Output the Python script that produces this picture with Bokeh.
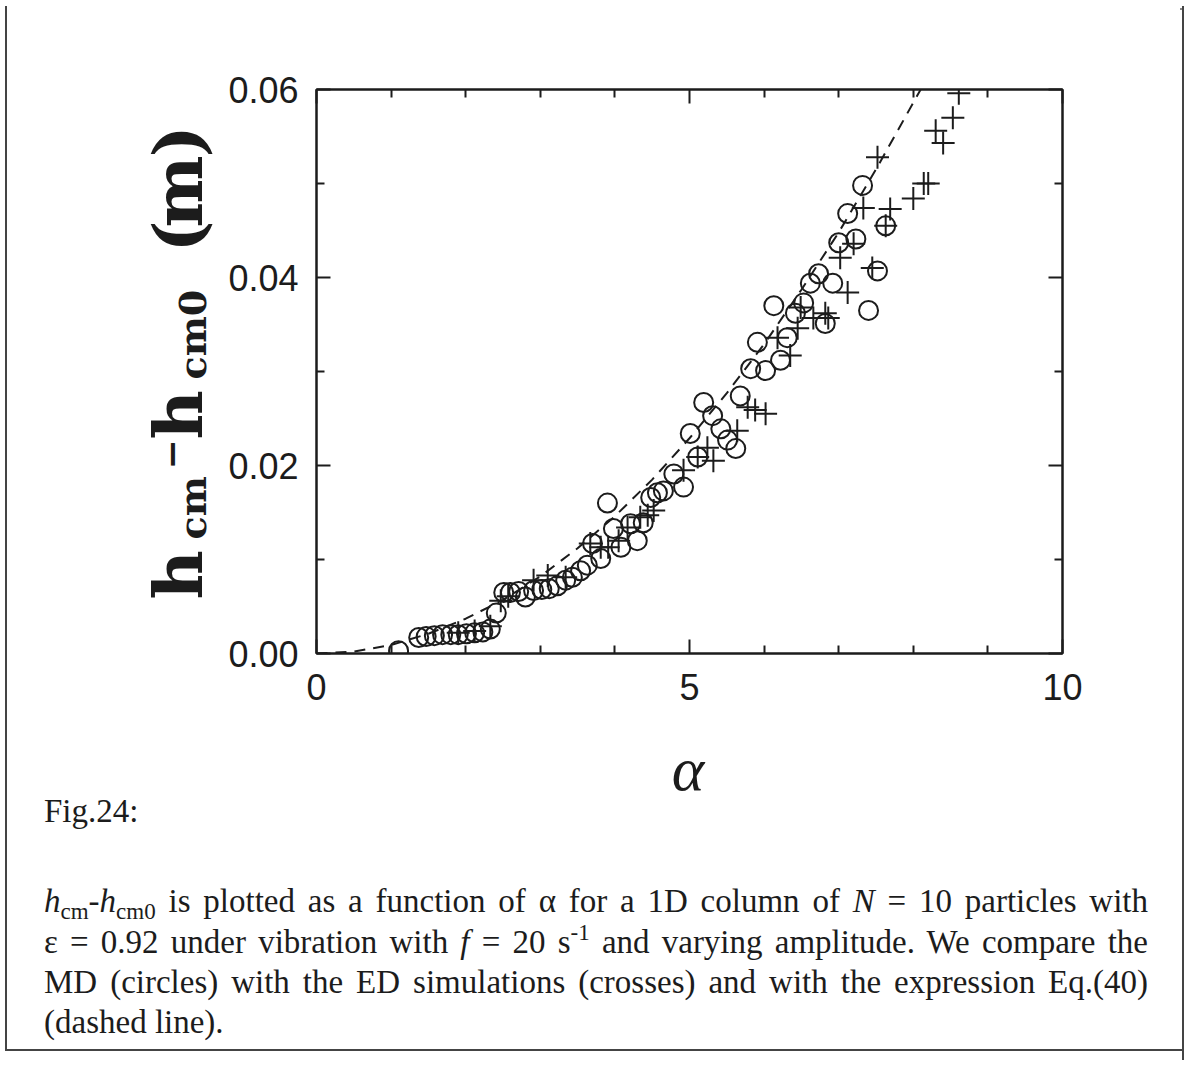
from bokeh.plotting import figure
from bokeh.models import (Range1d, FixedTicker, NumeralTickFormatter, LinearAxis,
                          CustomJSTickFormatter, Div)
from bokeh.layouts import row, column
from bokeh.embed import file_html
from bokeh.resources import INLINE

# ---------------- data ----------------
md_alpha = [1.10, 1.37, 1.47, 1.58, 1.69, 1.80, 1.90, 2.01, 2.12, 2.23, 2.33, 2.41,
            2.51, 2.60, 2.71, 2.80, 2.91, 3.02, 3.12, 3.23, 3.34, 3.43, 3.54, 3.63,
            3.70, 3.81, 3.90, 3.98, 4.08, 4.21, 4.30, 4.38, 4.48, 4.57, 4.65, 4.79, 4.92,
            5.01, 5.11, 5.19, 5.31, 5.42, 5.51, 5.62, 5.68, 5.82, 5.91, 6.02, 6.13, 6.22,
            6.31, 6.42, 6.53, 6.62, 6.73, 6.82, 6.92, 7.00, 7.12, 7.23, 7.32, 7.40, 7.52, 7.63]
md_h = [0.0003, 0.0017, 0.0018, 0.0019, 0.0020, 0.0020, 0.0020, 0.0021, 0.0022, 0.0023, 0.0026, 0.0043,
        0.0065, 0.0065, 0.0066, 0.0060, 0.0067, 0.0068, 0.0069, 0.0072, 0.0078, 0.0081, 0.0088, 0.0094,
        0.0117, 0.0101, 0.0160, 0.0133, 0.0113, 0.0138, 0.0120, 0.0139, 0.0166, 0.0171, 0.0173, 0.0191, 0.0177,
        0.0234, 0.0209, 0.0267, 0.0253, 0.0239, 0.0227, 0.0218, 0.0274, 0.0303, 0.0331, 0.0301, 0.0370, 0.0312,
        0.0336, 0.0362, 0.0373, 0.0394, 0.0404, 0.0351, 0.0394, 0.0437, 0.0468, 0.0441, 0.0498, 0.0365, 0.0407, 0.0455]

ed_alpha = [1.90, 2.12, 2.33, 2.47, 2.57, 2.91, 3.10, 3.34,
            3.67, 3.81, 3.91, 4.05, 4.17, 4.34, 4.44, 4.52,
            4.92, 5.11, 5.24, 5.32, 5.64, 5.78, 5.88, 6.02,
            6.18, 6.35, 6.45, 6.49, 6.66, 6.82, 6.86, 7.02, 7.12, 7.20, 7.33, 7.45, 7.52, 7.63,
            7.69, 8.00, 8.14, 8.20, 8.30, 8.40, 8.53, 8.61]
ed_h = [0.0022, 0.0024, 0.0029, 0.0056, 0.0061, 0.0078, 0.0083, 0.0081,
        0.0117, 0.0113, 0.0113, 0.0120, 0.0134, 0.0145, 0.0147, 0.0152,
        0.0195, 0.0209, 0.0219, 0.0205, 0.0237, 0.0262, 0.0259, 0.0255,
        0.0336, 0.0317, 0.0346, 0.0368, 0.0357, 0.0362, 0.0357, 0.0421, 0.0384, 0.0436, 0.0474, 0.0410, 0.0528, 0.0455,
        0.0473, 0.0484, 0.0500, 0.0500, 0.0556, 0.0543, 0.0570, 0.0596]

eq_alpha = [0.0, 0.5, 1.0, 1.5, 2.0, 2.5, 3.0, 3.5, 4.0, 4.5, 5.0, 5.5, 6.0, 6.5, 7.0, 7.5, 8.0, 8.12]
eq_h = [0.0, 0.0002, 0.0009, 0.0021, 0.0037, 0.0057, 0.0082, 0.0112, 0.0146, 0.0185,
        0.0229, 0.0277, 0.0329, 0.0387, 0.0448, 0.0515, 0.0586, 0.0603]

x_major = [0, 5, 10]
x_minor = [1, 2, 3, 4, 6, 7, 8, 9]
y_major = [0.00, 0.02, 0.04, 0.06]
y_minor = [0.01, 0.03, 0.05]

x_label = "α"
fig_label = "Fig.24:"

# ---------------- page geometry ----------------
W, H = 1204, 1067
TOP_H = 6            # strip above the figure
LEFT_W = 220         # y-label column
RIGHT_W = 24         # strip right of the figure
FIG_H = 724          # figure height (page y 6..730)
CAP_TOP = TOP_H + FIG_H
FIG_W = W - LEFT_W - RIGHT_W
FL, FR, FT, FB = 316, 1062, 89, 653   # plot frame in page pixels
INK = "#1c1c1c"
EDGE = "#444444"

p = figure(width=FIG_W, height=FIG_H, x_range=Range1d(0, 10), y_range=Range1d(0, 0.06),
           output_backend="svg", toolbar_location=None,
           min_border_left=FL - LEFT_W, min_border_right=W - RIGHT_W - FR,
           min_border_top=FT - TOP_H, min_border_bottom=CAP_TOP - FB)
p.grid.visible = False
p.background_fill_color = "white"
p.border_fill_color = "white"
p.outline_line_color = INK
p.outline_line_width = 2


def style_axis(ax, major, minor, show_labels, fmt=None):
    ax.ticker = FixedTicker(ticks=major, minor_ticks=minor)
    ax.axis_line_color = INK
    ax.axis_line_width = 2
    ax.major_tick_line_color = INK
    ax.major_tick_line_width = 2
    ax.minor_tick_line_color = INK
    ax.minor_tick_line_width = 2
    ax.major_tick_in = 14
    ax.major_tick_out = 0
    ax.minor_tick_in = 8
    ax.minor_tick_out = 0
    if show_labels:
        ax.major_label_text_font = "Liberation Sans"
        ax.major_label_text_font_size = "36px"
        ax.major_label_text_color = INK
        if fmt is not None:
            ax.formatter = fmt
    else:
        ax.formatter = CustomJSTickFormatter(code="return ''")
        ax.major_label_text_font_size = "1px"
        ax.major_label_standoff = 0


xa = p.xaxis[0]
style_axis(xa, x_major, x_minor, True)
xa.major_label_standoff = 20

ya = p.yaxis[0]
style_axis(ya, y_major, y_minor, True, NumeralTickFormatter(format="0.00"))
ya.major_label_standoff = 18

top_ax = LinearAxis()
style_axis(top_ax, x_major, x_minor, False)
p.add_layout(top_ax, "above")
right_ax = LinearAxis()
style_axis(right_ax, y_major, y_minor, False)
p.add_layout(right_ax, "right")

p.line(eq_alpha, eq_h, line_color=INK, line_width=2, line_dash="11 8")
p.scatter(md_alpha, md_h, marker="circle", size=19, fill_color=None,
          line_color=INK, line_width=2)
p.scatter(ed_alpha, ed_h, marker="cross", size=23, line_color=INK, line_width=2)


# ---------------- HTML helpers ----------------
def vline(x, y0, y1, color=EDGE, w=2):
    return (f'<div style="position:absolute;left:{x - 1}px;top:{y0}px;width:{w}px;'
            f'height:{y1 - y0}px;background:{color};"></div>')


def hline(y, x0, x1, color=EDGE, w=2):
    return (f'<div style="position:absolute;left:{x0}px;top:{y - 1}px;width:{x1 - x0}px;'
            f'height:{w}px;background:{color};"></div>')


def box(w, h, inner):
    return (f'<div style="position:relative;width:{w}px;height:{h}px;overflow:visible;'
            f'margin:0;padding:0;">{inner}</div>')


def make_div(w, h, inner):
    return Div(text=box(w, h, inner), width=w, height=h, margin=(0, 0, 0, 0))


# top strip
top_div = make_div(W, TOP_H, vline(6, 0, TOP_H) + vline(1183, 0, TOP_H) +
                   hline(3, 447, 1184, color="#888888"))


# rotated y label, composed of pieces with fixed advance along the text
def piece(txt, adv, size, shift=0):
    return (f'<span style="display:inline-block;width:{adv}px;font-size:{size}px;'
            f'vertical-align:{shift}px;">{txt}</span>')


ylab_inner = (piece("h", 60, 68) + piece("cm", 70, 38, -4) + piece("−", 30, 36, 18) +
              piece("h", 60, 68) + piece("cm0", 127, 38, -4) +
              piece("(", 25, 68) + piece("m", 70, 68) + piece(")", 21, 68))
cx, cy = 178, 368 - TOP_H
ylab = (f'<div style="position:absolute;left:{cx}px;top:{cy}px;'
        f'transform:translate(-50%,-50%) rotate(-90deg);white-space:nowrap;'
        f'font-family:\'DejaVu Serif\';font-weight:bold;font-size:68px;line-height:1;'
        f'color:{INK};">{ylab_inner}</div>')
left_div = make_div(LEFT_W, FIG_H, vline(6, 0, FIG_H) + ylab)

right_div = make_div(RIGHT_W, FIG_H, vline(1183 - (W - RIGHT_W), 0, FIG_H))


# caption area (page y from CAP_TOP)
def text_line(html, base_py, justify=True, size=33, lh=40):
    top = base_py - CAP_TOP - 31
    al = "text-align:justify;text-align-last:justify;" if justify else "text-align:left;"
    return (f'<div style="position:absolute;left:44px;width:1104px;top:{top}px;height:{lh}px;'
            f'font-family:\'Liberation Serif\';font-size:{size}px;line-height:{lh}px;'
            f'color:{INK};{al}">{html}</div>')


def sub(t):
    return (f'<span style="font-size:23px;line-height:0;vertical-align:-7px;">{t}</span>')


def sup(t):
    return (f'<span style="font-size:23px;line-height:0;vertical-align:13px;">{t}</span>')


cap1 = (f'<i>h</i>{sub("cm")}-<i>h</i>{sub("cm0")} is plotted as a function of α '
        f'for a 1D column of <i>N</i> = 10 particles with')
cap2 = f'ε = 0.92 under vibration with <i>f</i> = 20 s{sup("-1")} and varying amplitude. We compare the'
cap3 = 'MD (circles) with the ED simulations (crosses) and with the expression Eq.(40)'
cap4 = '(dashed line).'

alpha_html = (f'<div style="position:absolute;left:588px;width:200px;text-align:center;'
              f'top:{790 - CAP_TOP - 52}px;font-family:\'Liberation Serif\';font-style:italic;'
              f'font-size:62px;line-height:62px;color:{INK};">{x_label}</div>')

cap_h = H - CAP_TOP
cap_inner = (vline(6, 0, 1050 - CAP_TOP) + vline(1183, 0, 1060 - CAP_TOP) +
             hline(1050 - CAP_TOP, 5, 1184) + alpha_html +
             text_line(fig_label, 822, justify=False) +
             text_line(cap1, 912) + text_line(cap2, 953) + text_line(cap3, 993) +
             text_line(cap4, 1033, justify=False))
cap_div = make_div(W, cap_h, cap_inner)

layout = column(top_div, row(left_div, p, right_div, spacing=0), cap_div, spacing=0)

open("out.html", "w").write(file_html(layout, INLINE))
